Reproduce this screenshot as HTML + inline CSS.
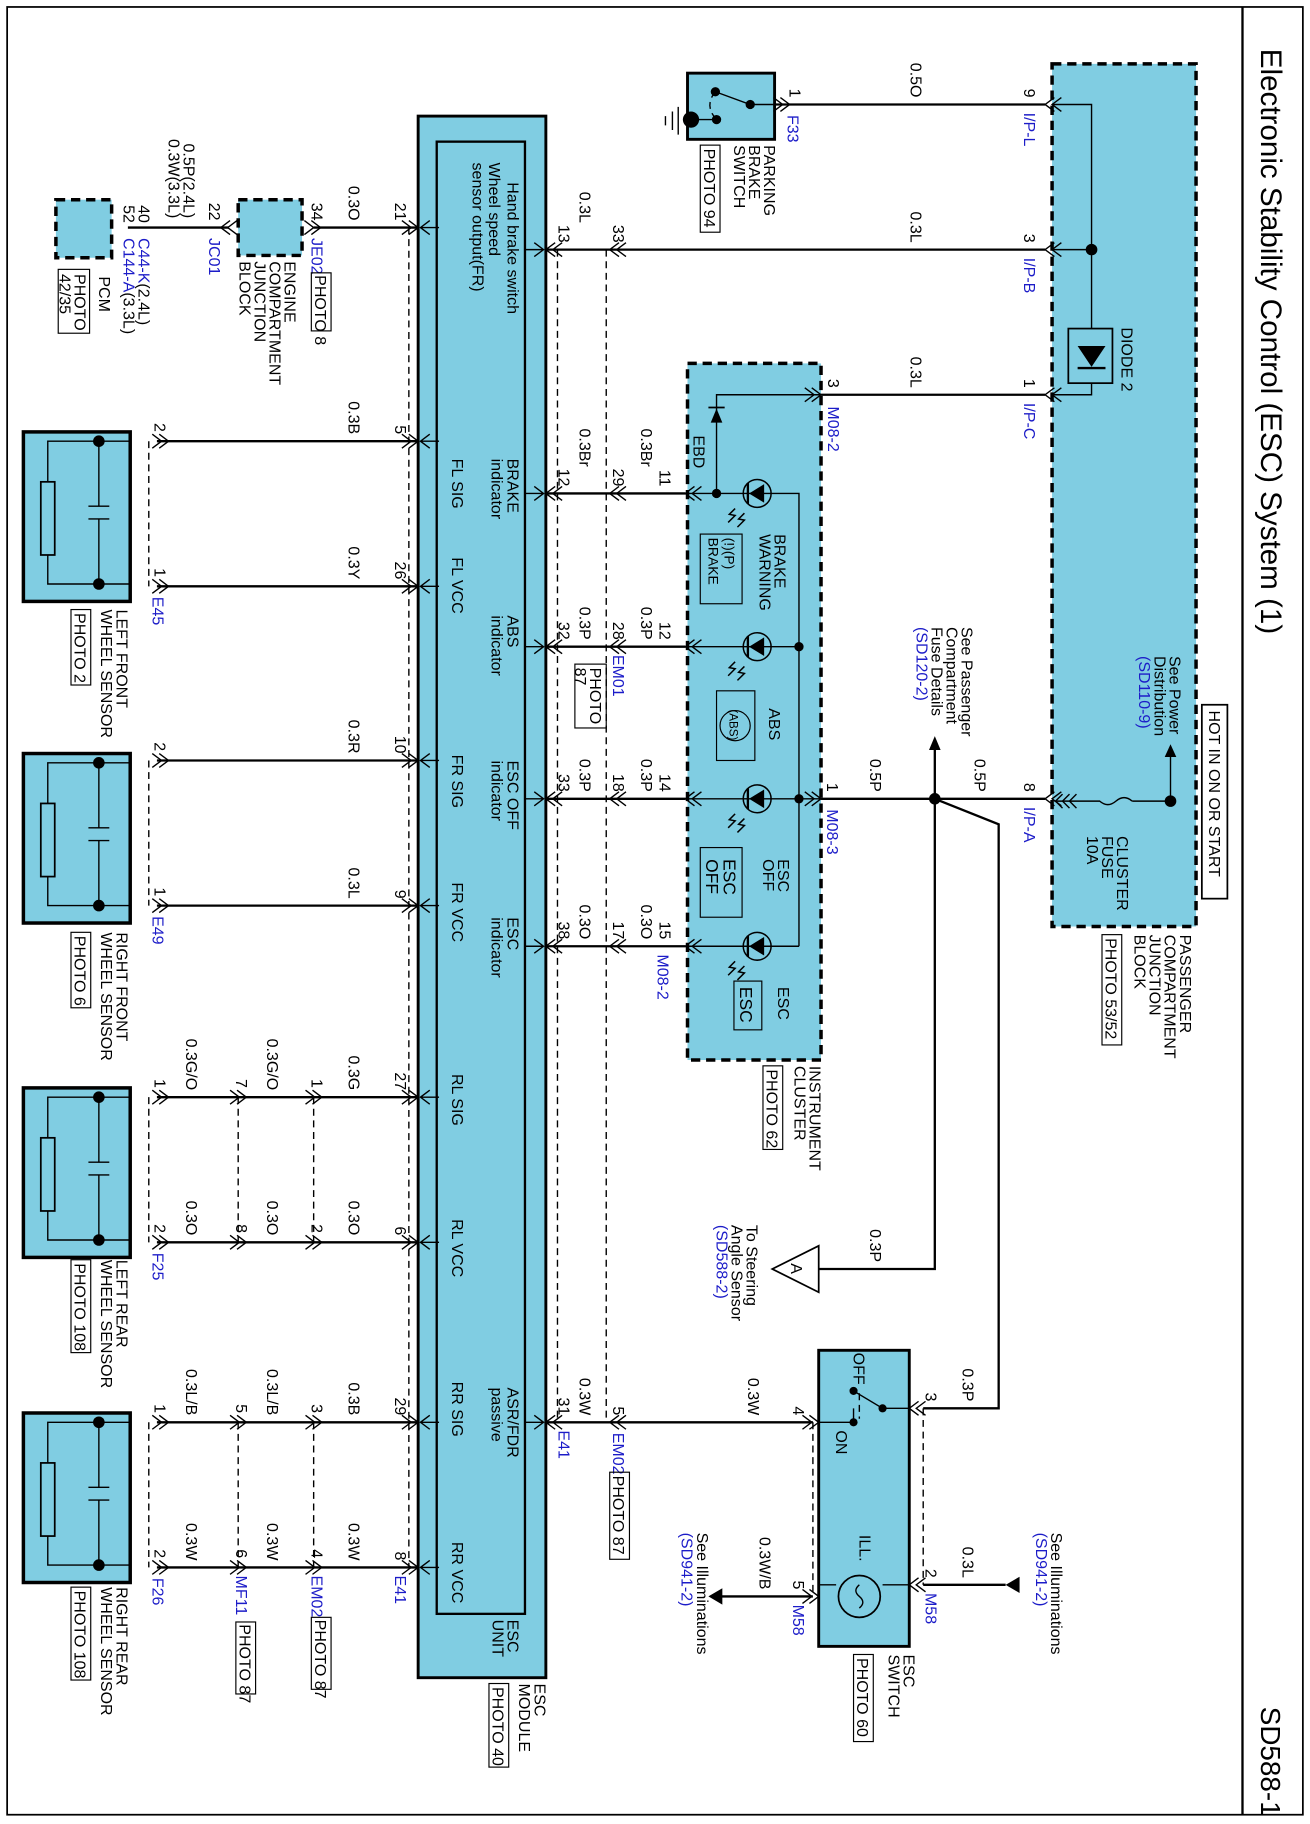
<!DOCTYPE html>
<html><head><meta charset="utf-8"><style>
html,body{margin:0;padding:0;background:#fff}
svg{display:block}
text{font-family:"Liberation Sans",sans-serif;font-size:13.8px;fill:#000}
.b{fill:#1c1cc8}
.w{stroke:#000;stroke-width:2;fill:none}
.t{stroke:#000;stroke-width:1.2;fill:none}
.d{stroke:#000;stroke-width:1.2;fill:none;stroke-dasharray:6,4}
.bx{fill:#80cde2;stroke:#000;stroke-width:2.5}
.db{fill:#80cde2;stroke:#000;stroke-width:3;stroke-dasharray:8,5}
</style></head><body>
<svg width="1310" height="1824" viewBox="0 0 1128 1571" xmlns="http://www.w3.org/2000/svg">
<defs>
<path id="L" d="M8,-6 L0,0 L8,6 M14,-6 L6,0 L14,6" stroke="#000" stroke-width="1.2" fill="none"/>
<path id="R" d="M-8,-6 L0,0 L-8,6 M-14,-6 L-6,0 L-14,6" stroke="#000" stroke-width="1.2" fill="none"/>
<path id="sL" d="M8,-6 L0,0 L8,6 M0,0 L16,0" stroke="#000" stroke-width="1.2" fill="none"/>
<path id="sR" d="M-8,-6 L0,0 L-8,6 M0,0 L-16,0" stroke="#000" stroke-width="1.2" fill="none"/>
</defs>
<rect x="6" y="6" width="1116" height="1557" fill="none" stroke="#000" stroke-width="1.5"/>
<line x1="1070" y1="6" x2="1070" y2="1563" stroke="#000" stroke-width="2"/>
<text transform="translate(1086,42) rotate(90)" style="font-size:25.5px">Electronic Stability Control (ESC) System (1)</text>
<text transform="translate(1086,1470) rotate(90)" style="font-size:24px">SD588-1</text>

<!-- junction block -->
<rect class="db" x="906" y="55" width="124" height="743"/>
<rect x="1035" y="607" width="22" height="167" fill="none" stroke="#000" stroke-width="1.5"/>
<text transform="translate(1041,612) rotate(90)">HOT IN ON OR START</text>
<text transform="translate(1007,565) rotate(90)"><tspan x="0">See Power</tspan><tspan x="0" dy="13">Distribution</tspan><tspan x="0" dy="13" class="b">(SD110-9)</tspan></text>
<path d="M1008,690 L1008,650" class="t"/><path d="M1003,652 L1008,641 L1013,652Z"/>
<circle cx="1008" cy="690" r="5"/>
<path d="M1008,690 L975,690" class="t"/>
<path d="M975,690 q-7,-6 -14,0 q-7,6 -14,0 L908,690" class="t"/>
<path d="M915,684 L909,690 L915,696 M921,684 L915,690 L921,696 M927,684 L921,690 L927,696" class="t"/>
<text transform="translate(962,720) rotate(90)"><tspan x="0">CLUSTER</tspan><tspan x="0" dy="13">FUSE</tspan><tspan x="0" dy="13">10A</tspan></text>
<path d="M906,90 L940,90 L940,283 M940,330 L940,340 L906,340 M906,215 L940,215" class="t"/>
<circle cx="940" cy="215" r="5"/>
<rect x="920" y="283" width="38" height="47" fill="none" stroke="#000" stroke-width="1.5"/>
<path d="M928,298 L952,298 L940,316Z"/><line x1="928" y1="317" x2="952" y2="317" stroke="#000" stroke-width="2"/>
<text transform="translate(966,282) rotate(90)">DIODE 2</text>
<text transform="translate(1016,805) rotate(90)"><tspan x="0">PASSENGER</tspan><tspan x="0" dy="13">COMPARTMENT</tspan><tspan x="0" dy="13">JUNCTION</tspan><tspan x="0" dy="13">BLOCK</tspan></text>
<rect x="949" y="805" width="17" height="95" fill="none" stroke="#000"/>
<text transform="translate(952,808) rotate(90)">PHOTO 53/52</text>

<use href="#L" x="900" y="90"/><use href="#L" x="900" y="215"/><use href="#L" x="900" y="340"/><use href="#L" x="900" y="688"/>
<text transform="translate(882,84) rotate(90)" text-anchor="end">9</text><text class="b" transform="translate(882,97) rotate(90)">I/P-L</text>
<text transform="translate(882,209) rotate(90)" text-anchor="end">3</text><text class="b" transform="translate(882,222) rotate(90)">I/P-B</text>
<text transform="translate(882,334) rotate(90)" text-anchor="end">1</text><text class="b" transform="translate(882,347) rotate(90)">I/P-C</text>
<text transform="translate(882,682) rotate(90)" text-anchor="end">8</text><text class="b" transform="translate(882,695) rotate(90)">I/P-A</text>

<path d="M900,90 L668,90" class="w"/>
<text transform="translate(784,84) rotate(90)" text-anchor="end">0.5O</text>
<text transform="translate(680,84) rotate(90)" text-anchor="end">1</text><text class="b" transform="translate(678,99) rotate(90)">F33</text>
<path d="M900,215 L470,215" class="w"/>
<text transform="translate(784,209) rotate(90)" text-anchor="end">0.3L</text>
<text transform="translate(499,192) rotate(90)" text-anchor="end">0.3L</text>
<path d="M900,340 L707,340" class="w"/>
<text transform="translate(784,334) rotate(90)" text-anchor="end">0.3L</text>
<text transform="translate(713,334) rotate(90)" text-anchor="end">3</text><text class="b" transform="translate(713,350) rotate(90)">M08-2</text>
<path d="M900,688 L707,688" class="w"/>
<text transform="translate(839,682) rotate(90)" text-anchor="end">0.5P</text>
<text transform="translate(749,682) rotate(90)" text-anchor="end">0.5P</text>
<text transform="translate(712,682) rotate(90)" text-anchor="end">1</text><text class="b" transform="translate(712,697) rotate(90)">M08-3</text>
<circle cx="805" cy="688" r="5"/>
<path d="M805,688 L805,642" class="w"/><path d="M800,646 L805,634 L810,646Z"/>
<text transform="translate(828,540) rotate(90)"><tspan x="0">See Passenger</tspan><tspan x="0" dy="13">Compartment</tspan><tspan x="0" dy="13">Fuse Details</tspan><tspan x="0" dy="13" class="b">(SD120-2)</tspan></text>
<path d="M805,688 L805,1093 L705,1093" class="w"/>
<text transform="translate(749,1087) rotate(90)" text-anchor="end">0.3P</text>
<path d="M665,1093 L705,1073 L705,1113Z" fill="#fff" stroke="#000" stroke-width="1.5"/>
<text transform="translate(681,1088) rotate(90)">A</text>
<text transform="translate(643,1055) rotate(90)"><tspan x="0">To Steering</tspan><tspan x="0" dy="13">Angle Sensor</tspan><tspan x="0" dy="13" class="b">(SD588-2)</tspan></text>
<path d="M805,688 L860,710 L860,1213 L795,1213" class="w"/>
<text transform="translate(829,1207) rotate(90)" text-anchor="end">0.3P</text>

<!-- parking brake switch -->
<rect class="bx" x="592" y="63" width="75" height="57"/>
<path d="M667,90 L646,90 L616,79 M617,103 L595,103 M584,92 L584,116 M579,96 L579,112 M573,100 L573,108" class="t" stroke-width="1.8"/>
<path d="M616,79 Q606,91 617,103" class="d"/>
<circle cx="646" cy="90" r="4"/><circle cx="616" cy="79" r="4"/><circle cx="617" cy="103" r="4"/><circle cx="595" cy="103" r="7"/>
<use href="#R" x="680" y="90"/>
<text transform="translate(658,125) rotate(90)"><tspan x="0">PARKING</tspan><tspan x="0" dy="13">BRAKE</tspan><tspan x="0" dy="13">SWITCH</tspan></text>
<rect x="603" y="125" width="17" height="75" fill="none" stroke="#000"/>
<text transform="translate(606,128) rotate(90)">PHOTO 94</text>

<!-- instrument cluster -->
<rect class="db" x="592" y="313" width="115" height="600"/>
<path d="M707,340 L617,340 L617,425 M590,425 L688,425 L688,815 M590,557 L688,557 M590,688 L707,688 M590,815 L688,815" class="t" stroke-width="1.5"/>
<path d="M612,364 L622,364 L617,352Z"/><line x1="610" y1="351" x2="624" y2="351" stroke="#000" stroke-width="1.5"/>
<text transform="translate(597,375) rotate(90)">EBD</text>
<circle cx="617" cy="425" r="4"/><circle cx="688" cy="557" r="4"/><circle cx="688" cy="688" r="4"/>
<g fill="none" stroke="#000" stroke-width="1.3">
<circle cx="652" cy="425" r="12"/><circle cx="652" cy="557" r="12"/><circle cx="652" cy="688" r="12"/><circle cx="652" cy="815" r="12"/>
<path d="M633,438 l-5,5 l5,1 l-6,6 M641,442 l-5,5 l5,1 l-6,6"/><path d="M633,570 l-5,5 l5,1 l-6,6 M641,574 l-5,5 l5,1 l-6,6"/><path d="M633,701 l-5,5 l5,1 l-6,6 M641,705 l-5,5 l5,1 l-6,6"/><path d="M633,828 l-5,5 l5,1 l-6,6 M641,832 l-5,5 l5,1 l-6,6"/>
</g>
<g><path d="M645,425 L658,417 L658,433Z"/><path d="M645,557 L658,549 L658,565Z"/><path d="M645,688 L658,680 L658,696Z"/><path d="M645,815 L658,807 L658,823Z"/>
<path d="M644,416 L644,434 M644,548 L644,566 M644,679 L644,697 M644,806 L644,824" stroke="#000" stroke-width="2"/></g>
<text transform="translate(667,460) rotate(90)"><tspan x="0">BRAKE</tspan><tspan x="0" dy="13">WARNING</tspan></text>
<rect x="603" y="460" width="36" height="60" fill="none" stroke="#000"/>
<text transform="translate(624,463) rotate(90)" style="font-size:12px"><tspan x="0">(!)(P)</tspan><tspan x="0" dy="14">BRAKE</tspan></text>
<text transform="translate(662,610) rotate(90)">ABS</text>
<rect x="617" y="595" width="33" height="60" fill="none" stroke="#000"/>
<circle cx="633" cy="625" r="13" fill="none" stroke="#000"/>
<text transform="translate(628,611) rotate(90)" style="font-size:10px">(ABS)</text>
<text transform="translate(670,740) rotate(90)"><tspan x="0">ESC</tspan><tspan x="0" dy="13">OFF</tspan></text>
<rect x="603" y="730" width="36" height="60" fill="none" stroke="#000"/>
<text transform="translate(623,740) rotate(90)" style="font-size:15px"><tspan x="0">ESC</tspan><tspan x="0" dy="15">OFF</tspan></text>
<text transform="translate(670,850) rotate(90)">ESC</text>
<rect x="632" y="845" width="24" height="42" fill="none" stroke="#000"/>
<text transform="translate(637,850) rotate(90)" style="font-size:15px">ESC</text>
<text transform="translate(697,918) rotate(90)"><tspan x="0">INSTRUMENT</tspan><tspan x="0" dy="13">CLUSTER</tspan></text>
<rect x="657" y="918" width="17" height="72" fill="none" stroke="#000"/>
<text transform="translate(660,921) rotate(90)">PHOTO 62</text>
<use href="#L" x="590" y="425"/><use href="#L" x="590" y="557"/><use href="#L" x="590" y="688"/><use href="#L" x="590" y="815"/>
<use href="#R" x="707" y="340"/><use href="#R" x="707" y="688"/>

<!-- cluster to ESC wires -->
<g class="w"><path d="M590,425 L470,425 M590,557 L470,557 M590,688 L470,688 M590,815 L470,815 M700,1225 L470,1225"/></g>
<g><use href="#L" x="525" y="425"/><use href="#L" x="525" y="557"/><use href="#L" x="525" y="688"/><use href="#L" x="525" y="815"/><use href="#L" x="525" y="215"/><use href="#L" x="525" y="1225"/>
<use href="#L" x="470" y="215"/><use href="#L" x="470" y="425"/><use href="#L" x="470" y="557"/><use href="#L" x="470" y="688"/><use href="#L" x="470" y="815"/><use href="#L" x="470" y="1225"/></g>
<path d="M480,215 L480,1225 M522,215 L522,1225" class="d"/>
<text transform="translate(568,419) rotate(90)" text-anchor="end">11</text>
<text transform="translate(568,551) rotate(90)" text-anchor="end">12</text>
<text transform="translate(568,682) rotate(90)" text-anchor="end">14</text>
<text transform="translate(568,809) rotate(90)" text-anchor="end">15</text>
<text class="b" transform="translate(566,822) rotate(90)">M08-2</text>
<text transform="translate(552,402) rotate(90)" text-anchor="end">0.3Br</text>
<text transform="translate(552,551) rotate(90)" text-anchor="end">0.3P</text>
<text transform="translate(552,682) rotate(90)" text-anchor="end">0.3P</text>
<text transform="translate(552,809) rotate(90)" text-anchor="end">0.3O</text>
<text transform="translate(528,209) rotate(90)" text-anchor="end">33</text>
<text transform="translate(528,419) rotate(90)" text-anchor="end">29</text>
<text transform="translate(528,551) rotate(90)" text-anchor="end">28</text>
<text transform="translate(528,682) rotate(90)" text-anchor="end">18</text>
<text transform="translate(528,809) rotate(90)" text-anchor="end">17</text>
<text transform="translate(528,1219) rotate(90)" text-anchor="end">5</text>
<text class="b" transform="translate(528,564) rotate(90)">EM01</text>
<rect x="495" y="572" width="27" height="55" fill="none" stroke="#000"/>
<text transform="translate(508,575) rotate(90)"><tspan x="0">PHOTO</tspan><tspan x="0" dy="13">87</tspan></text>
<text class="b" transform="translate(528,1234) rotate(90)">EM02</text>
<rect x="525" y="1268" width="17" height="75" fill="none" stroke="#000"/>
<text transform="translate(528,1271) rotate(90)">PHOTO 87</text>
<text transform="translate(499,402) rotate(90)" text-anchor="end">0.3Br</text>
<text transform="translate(499,551) rotate(90)" text-anchor="end">0.3P</text>
<text transform="translate(499,682) rotate(90)" text-anchor="end">0.3P</text>
<text transform="translate(499,809) rotate(90)" text-anchor="end">0.3O</text>
<text transform="translate(499,1219) rotate(90)" text-anchor="end">0.3W</text>
<text transform="translate(644,1219) rotate(90)" text-anchor="end">0.3W</text>
<text transform="translate(481,209) rotate(90)" text-anchor="end">13</text>
<text transform="translate(481,419) rotate(90)" text-anchor="end">12</text>
<text transform="translate(481,551) rotate(90)" text-anchor="end">32</text>
<text transform="translate(481,682) rotate(90)" text-anchor="end">33</text>
<text transform="translate(481,809) rotate(90)" text-anchor="end">38</text>
<text transform="translate(481,1219) rotate(90)" text-anchor="end">31</text>
<text class="b" transform="translate(481,1232) rotate(90)">E41</text>

<!-- ESC module -->
<rect x="360" y="100" width="110" height="1345" fill="#80cde2" stroke="#000" stroke-width="2.5"/>
<rect x="376" y="122" width="76" height="1268" fill="none" stroke="#000" stroke-width="2"/>
<g><use href="#sR" x="468" y="215"/><use href="#sR" x="468" y="425"/><use href="#sR" x="468" y="557"/><use href="#sR" x="468" y="688"/><use href="#sR" x="468" y="815"/><use href="#sR" x="468" y="1225"/>
<use href="#sL" x="362" y="196"/><use href="#sL" x="362" y="380"/><use href="#sL" x="362" y="505"/><use href="#sL" x="362" y="655"/><use href="#sL" x="362" y="780"/><use href="#sL" x="362" y="945"/><use href="#sL" x="362" y="1070"/><use href="#sL" x="362" y="1225"/><use href="#sL" x="362" y="1350"/></g>
<text transform="translate(437,157) rotate(90)">Hand brake switch</text>
<text transform="translate(421,140) rotate(90)"><tspan x="0">Wheel speed</tspan><tspan x="0" dy="14">sensor output(FR)</tspan></text>
<text transform="translate(437,395) rotate(90)"><tspan x="0">BRAKE</tspan><tspan x="0" dy="14">indicator</tspan></text>
<text transform="translate(437,530) rotate(90)"><tspan x="0">ABS</tspan><tspan x="0" dy="14">indicator</tspan></text>
<text transform="translate(437,655) rotate(90)"><tspan x="0">ESC OFF</tspan><tspan x="0" dy="14">indicator</tspan></text>
<text transform="translate(437,790) rotate(90)"><tspan x="0">ESC</tspan><tspan x="0" dy="14">indicator</tspan></text>
<text transform="translate(437,1195) rotate(90)"><tspan x="0">ASR/FDR</tspan><tspan x="0" dy="14">passive</tspan></text>
<text transform="translate(389,395) rotate(90)">FL SIG</text>
<text transform="translate(389,480) rotate(90)">FL VCC</text>
<text transform="translate(389,650) rotate(90)">FR SIG</text>
<text transform="translate(389,760) rotate(90)">FR VCC</text>
<text transform="translate(389,925) rotate(90)">RL SIG</text>
<text transform="translate(389,1050) rotate(90)">RL VCC</text>
<text transform="translate(389,1190) rotate(90)">RR SIG</text>
<text transform="translate(389,1328) rotate(90)">RR VCC</text>
<text transform="translate(437,1395) rotate(90)"><tspan x="0">ESC</tspan><tspan x="0" dy="13">UNIT</tspan></text>
<text transform="translate(460,1450) rotate(90)"><tspan x="0">ESC</tspan><tspan x="0" dy="13">MODULE</tspan></text>
<rect x="421" y="1450" width="17" height="72" fill="none" stroke="#000"/>
<text transform="translate(424,1453) rotate(90)">PHOTO 40</text>

<!-- left side wires -->
<g class="w"><path d="M360,196 L270,196 M260,196 L205,196 M197,196 L110,196 M360,380 L135,380 M360,505 L135,505 M360,655 L135,655 M360,780 L135,780 M360,945 L135,945 M360,1070 L135,1070 M360,1225 L135,1225 M360,1350 L135,1350"/></g>
<path d="M352,196 L352,1350 M128,380 L128,505 M128,655 L128,780 M128,945 L128,1070 M128,1225 L128,1350 M205,945 L205,1070 M205,1225 L205,1350 M270,945 L270,1070 M270,1225 L270,1350" class="d"/>
<g><use href="#R" x="360" y="196"/><use href="#R" x="360" y="380"/><use href="#R" x="360" y="505"/><use href="#R" x="360" y="655"/><use href="#R" x="360" y="780"/><use href="#R" x="360" y="945"/><use href="#R" x="360" y="1070"/><use href="#R" x="360" y="1225"/><use href="#R" x="360" y="1350"/>
<use href="#R" x="276" y="196"/><use href="#L" x="190" y="196"/>
<use href="#R" x="145" y="380"/><use href="#R" x="145" y="505"/><use href="#R" x="145" y="655"/><use href="#R" x="145" y="780"/><use href="#R" x="145" y="945"/><use href="#R" x="145" y="1070"/><use href="#R" x="145" y="1225"/><use href="#R" x="145" y="1350"/>
<use href="#R" x="212" y="945"/><use href="#R" x="212" y="1070"/><use href="#R" x="212" y="1225"/><use href="#R" x="212" y="1350"/>
<use href="#R" x="277" y="945"/><use href="#R" x="277" y="1070"/><use href="#R" x="277" y="1225"/><use href="#R" x="277" y="1350"/></g>
<text transform="translate(340,190) rotate(90)" text-anchor="end">21</text>
<text transform="translate(340,374) rotate(90)" text-anchor="end">5</text>
<text transform="translate(340,499) rotate(90)" text-anchor="end">26</text>
<text transform="translate(340,649) rotate(90)" text-anchor="end">10</text>
<text transform="translate(340,774) rotate(90)" text-anchor="end">9</text>
<text transform="translate(340,939) rotate(90)" text-anchor="end">27</text>
<text transform="translate(340,1064) rotate(90)" text-anchor="end">6</text>
<text transform="translate(340,1219) rotate(90)" text-anchor="end">29</text>
<text transform="translate(340,1344) rotate(90)" text-anchor="end">8</text>
<text class="b" transform="translate(340,1357) rotate(90)">E41</text>
<text transform="translate(300,190) rotate(90)" text-anchor="end">0.3O</text>
<text transform="translate(300,374) rotate(90)" text-anchor="end">0.3B</text>
<text transform="translate(300,499) rotate(90)" text-anchor="end">0.3Y</text>
<text transform="translate(300,649) rotate(90)" text-anchor="end">0.3R</text>
<text transform="translate(300,774) rotate(90)" text-anchor="end">0.3L</text>
<text transform="translate(300,939) rotate(90)" text-anchor="end">0.3G</text>
<text transform="translate(300,1064) rotate(90)" text-anchor="end">0.3O</text>
<text transform="translate(300,1219) rotate(90)" text-anchor="end">0.3B</text>
<text transform="translate(300,1344) rotate(90)" text-anchor="end">0.3W</text>
<text transform="translate(268,937) rotate(90)" text-anchor="end">1</text>
<text transform="translate(268,1062) rotate(90)" text-anchor="end">2</text>
<text transform="translate(268,1217) rotate(90)" text-anchor="end">3</text>
<text transform="translate(268,1342) rotate(90)" text-anchor="end">4</text>
<text class="b" transform="translate(268,1357) rotate(90)">EM02</text>
<rect x="268" y="1393" width="17" height="62" fill="none" stroke="#000"/>
<text transform="translate(271,1395) rotate(90)">PHOTO 87</text>
<text transform="translate(230,939) rotate(90)" text-anchor="end">0.3G/O</text>
<text transform="translate(230,1064) rotate(90)" text-anchor="end">0.3O</text>
<text transform="translate(230,1219) rotate(90)" text-anchor="end">0.3L/B</text>
<text transform="translate(230,1344) rotate(90)" text-anchor="end">0.3W</text>
<text transform="translate(203,937) rotate(90)" text-anchor="end">7</text>
<text transform="translate(203,1062) rotate(90)" text-anchor="end">8</text>
<text transform="translate(203,1217) rotate(90)" text-anchor="end">5</text>
<text transform="translate(203,1342) rotate(90)" text-anchor="end">6</text>
<text class="b" transform="translate(203,1357) rotate(90)">MF11</text>
<rect x="203" y="1397" width="17" height="62" fill="none" stroke="#000"/>
<text transform="translate(206,1399) rotate(90)">PHOTO 87</text>
<text transform="translate(160,939) rotate(90)" text-anchor="end">0.3G/O</text>
<text transform="translate(160,1064) rotate(90)" text-anchor="end">0.3O</text>
<text transform="translate(160,1219) rotate(90)" text-anchor="end">0.3L/B</text>
<text transform="translate(160,1344) rotate(90)" text-anchor="end">0.3W</text>
<text transform="translate(133,372) rotate(90)" text-anchor="end">2</text>
<text transform="translate(133,497) rotate(90)" text-anchor="end">1</text>
<text class="b" transform="translate(131,514) rotate(90)">E45</text>
<text transform="translate(133,647) rotate(90)" text-anchor="end">2</text>
<text transform="translate(133,772) rotate(90)" text-anchor="end">1</text>
<text class="b" transform="translate(131,789) rotate(90)">E49</text>
<text transform="translate(133,937) rotate(90)" text-anchor="end">1</text>
<text transform="translate(133,1062) rotate(90)" text-anchor="end">2</text>
<text class="b" transform="translate(131,1079) rotate(90)">F25</text>
<text transform="translate(133,1217) rotate(90)" text-anchor="end">1</text>
<text transform="translate(133,1342) rotate(90)" text-anchor="end">2</text>
<text class="b" transform="translate(131,1359) rotate(90)">F26</text>

<!-- engine junction + PCM -->
<rect class="db" x="205" y="172" width="55" height="48" stroke-width="2"/>
<text transform="translate(268,190) rotate(90)" text-anchor="end">34</text>
<text class="b" transform="translate(268,205) rotate(90)">JE02</text>
<rect x="268" y="235" width="17" height="50" fill="none" stroke="#000"/>
<text transform="translate(271,237) rotate(90)">PHOTO 8</text>
<text transform="translate(245,225) rotate(90)"><tspan x="0">ENGINE</tspan><tspan x="0" dy="13">COMPARTMENT</tspan><tspan x="0" dy="13">JUNCTION</tspan><tspan x="0" dy="13">BLOCK</tspan></text>
<text transform="translate(180,190) rotate(90)" text-anchor="end">22</text>
<text class="b" transform="translate(180,205) rotate(90)">JC01</text>
<text transform="translate(158,188) rotate(90)" text-anchor="end"><tspan x="0">0.5P(2.4L)</tspan><tspan x="0" dy="13">0.3W(3.3L)</tspan></text>
<text transform="translate(119,192) rotate(90)" text-anchor="end"><tspan x="0">40</tspan><tspan x="0" dy="13">52</tspan></text>
<text class="b" transform="translate(119,205) rotate(90)"><tspan x="0">C44-K</tspan><tspan style="fill:#000">(2.4L)</tspan><tspan x="0" dy="13">C144-A</tspan><tspan style="fill:#000">(3.3L)</tspan></text>
<rect class="db" x="48" y="172" width="48" height="50" stroke-width="2"/>
<text transform="translate(85,238) rotate(90)">PCM</text>
<rect x="50" y="232" width="27" height="55" fill="none" stroke="#000"/>
<text transform="translate(64,236) rotate(90)"><tspan x="0">PHOTO</tspan><tspan x="0" dy="13">42/35</tspan></text>

<!-- wheel sensors -->
<g id="ws">
<rect x="20" y="372" width="92" height="146" fill="#80cde2" stroke="#000" stroke-width="3"/>
<path d="M112,380 L85,380 L41,380 L41,415 M41,478 L41,503 L112,503 M85,380 L85,436 M85,447 L85,503 M76,436 L94,436 M76,447 L94,447" class="t" stroke-width="1.5"/>
<rect x="35" y="415" width="12" height="63" fill="none" stroke="#000" stroke-width="1.5"/>
<circle cx="85" cy="380" r="5"/><circle cx="85" cy="503" r="5"/>
</g>
<use href="#ws" y="277"/><use href="#ws" y="565"/><use href="#ws" y="845"/>
<text transform="translate(100,525) rotate(90)"><tspan x="0">LEFT FRONT</tspan><tspan x="0" dy="13">WHEEL SENSOR</tspan></text>
<rect x="61" y="525" width="17" height="65" fill="none" stroke="#000"/><text transform="translate(64,528) rotate(90)">PHOTO 2</text>
<text transform="translate(100,803) rotate(90)"><tspan x="0">RIGHT FRONT</tspan><tspan x="0" dy="13">WHEEL SENSOR</tspan></text>
<rect x="61" y="803" width="17" height="65" fill="none" stroke="#000"/><text transform="translate(64,806) rotate(90)">PHOTO 6</text>
<text transform="translate(100,1085) rotate(90)"><tspan x="0">LEFT REAR</tspan><tspan x="0" dy="13">WHEEL SENSOR</tspan></text>
<rect x="61" y="1085" width="17" height="80" fill="none" stroke="#000"/><text transform="translate(64,1088) rotate(90)">PHOTO 108</text>
<text transform="translate(100,1367) rotate(90)"><tspan x="0">RIGHT REAR</tspan><tspan x="0" dy="13">WHEEL SENSOR</tspan></text>
<rect x="61" y="1367" width="17" height="80" fill="none" stroke="#000"/><text transform="translate(64,1370) rotate(90)">PHOTO 108</text>

<!-- ESC switch -->
<rect class="bx" x="705" y="1163" width="78" height="255"/>
<path d="M783,1213 L760,1213 L735,1198 M735,1213 L735,1225 L705,1225 M783,1365 L760,1365 M720,1365 L705,1365 L705,1375" class="t" stroke-width="1.5"/>
<path d="M740,1200 L740,1222" class="d"/>
<circle cx="760" cy="1213" r="3.5"/><circle cx="735" cy="1198" r="3.5"/><circle cx="735" cy="1225" r="3.5"/>
<text transform="translate(735,1165) rotate(90)">OFF</text>
<text transform="translate(720,1232) rotate(90)">ON</text>
<text transform="translate(740,1322) rotate(90)">ILL.</text>
<circle cx="740" cy="1375" r="18" fill="none" stroke="#000" stroke-width="1.5"/>
<path d="M740,1365 q-6,5 0,10 q6,5 0,10" class="t"/>
<path d="M795,1213 L795,1365 M700,1225 L700,1375" class="d"/>
<use href="#L" x="783" y="1213"/><use href="#L" x="783" y="1365"/><use href="#R" x="705" y="1225"/><use href="#R" x="705" y="1375"/>
<text transform="translate(797,1207) rotate(90)" text-anchor="end">3</text>
<text transform="translate(797,1359) rotate(90)" text-anchor="end">2</text>
<text class="b" transform="translate(797,1372) rotate(90)">M58</text>
<text transform="translate(683,1219) rotate(90)" text-anchor="end">4</text>
<text transform="translate(683,1369) rotate(90)" text-anchor="end">5</text>
<text class="b" transform="translate(683,1382) rotate(90)">M58</text>
<path d="M795,1365 L866,1365" class="w"/><path d="M878,1358 L866,1365 L878,1372Z"/>
<text transform="translate(829,1359) rotate(90)" text-anchor="end">0.3L</text>
<text transform="translate(905,1320) rotate(90)"><tspan x="0">See Illuminations</tspan><tspan x="0" dy="13" class="b">(SD941-2)</tspan></text>
<path d="M700,1375 L620,1375" class="w"/><path d="M622,1368 L610,1375 L622,1382Z"/>
<text transform="translate(654,1369) rotate(90)" text-anchor="end">0.3W/B</text>
<text transform="translate(600,1320) rotate(90)"><tspan x="0">See Illuminations</tspan><tspan x="0" dy="13" class="b">(SD941-2)</tspan></text>
<text transform="translate(778,1425) rotate(90)"><tspan x="0">ESC</tspan><tspan x="0" dy="13">SWITCH</tspan></text>
<rect x="735" y="1425" width="17" height="75" fill="none" stroke="#000"/><text transform="translate(738,1428) rotate(90)">PHOTO 60</text>
</svg>
</body></html>
